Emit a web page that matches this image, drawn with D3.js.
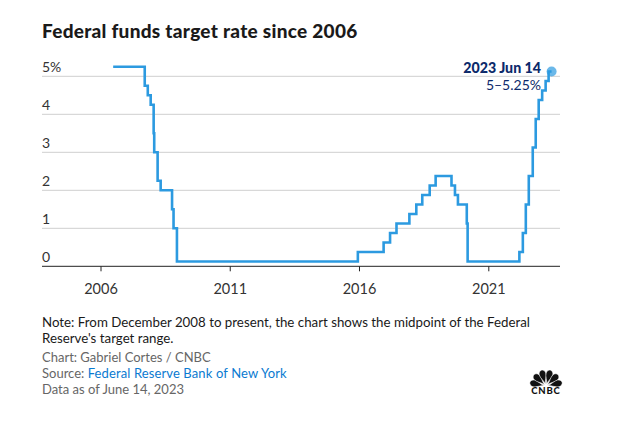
<!DOCTYPE html>
<html>
<head>
<meta charset="utf-8">
<script src="https://cdn.jsdelivr.net/npm/d3@7"></script>
<style>
  html, body { margin: 0; padding: 0; background: #fff; }
  text { font-family: Lato, "Open Sans", sans-serif; }
</style>
</head>
<body>
<svg id="chart" width="631" height="425"></svg>
<script>
const rateDates = ['2006-06-29', '2007-09-18', '2007-10-31', '2007-12-11', '2008-01-22', '2008-01-30',
  '2008-03-18', '2008-04-30', '2008-10-08', '2008-10-29', '2008-12-16', '2015-12-16', '2016-12-14',
  '2017-03-15', '2017-06-14', '2017-12-13', '2018-03-21', '2018-06-13', '2018-09-26', '2018-12-19',
  '2019-07-31', '2019-09-18', '2019-10-30', '2020-03-03', '2020-03-15', '2022-03-16', '2022-05-04',
  '2022-06-15', '2022-07-27', '2022-09-21', '2022-11-02', '2022-12-14', '2023-02-01', '2023-03-22',
  '2023-05-03', '2023-06-14']
const rateValues = [5.25, 4.75, 4.5, 4.25, 3.5, 3, 2.25, 2, 1.5, 1, 0.125, 0.375, 0.625, 0.875, 1.125,
  1.375, 1.625, 1.875, 2.125, 2.375, 2.125, 1.875, 1.625, 1.125, 0.125, 0.375, 0.875, 1.625, 2.375,
  3.125, 3.875, 4.375, 4.625, 4.875, 5.125, 5.125]
const yTicks = [0, 1, 2, 3, 4, 5]
const xTickYears = [2006, 2011, 2016, 2021]
const noteLines = [
  'Note: From December 2008 to present, the chart shows the midpoint of the Federal',
  "Reserve's target range."
]

const svg = d3.select('#chart')
const parse = d3.utcParse('%Y-%m-%d')
const points = rateDates.map((d, i) => ({ date: parse(d), value: rateValues[i] }))

const left = 42
const right = 560

// 2006 sits at x=100.5 and 2021 at x=488.3 in the reference
const x = d3.scaleUtc()
  .domain([Date.UTC(2006, 0, 1), Date.UTC(2021, 0, 1)])
  .range([100.5, 488.3])
const y = d3.scaleLinear().domain([0, 5]).range([266.3, 76.3])

svg.append('text')
  .attr('x', left)
  .attr('y', 38)
  .attr('font-size', 19)
  .attr('font-weight', 900)
  .attr('letter-spacing', 0.28)
  .attr('fill', '#1a1a1a')
  .text('Federal funds target rate since 2006')

// gridlines and y labels
const yGroup = svg.append('g')
yTicks.forEach(t => {
  if (t > 0) {
    yGroup.append('line')
      .attr('x1', left).attr('x2', right)
      .attr('y1', y(t)).attr('y2', y(t))
      .style('stroke', '#cfcfcf')
  }
  yGroup.append('text')
    .attr('x', left)
    .attr('y', y(t) - 4)
    .attr('font-size', 14)
    .attr('fill', '#333')
    .text(t === 5 ? t + '%' : t)
})

// x axis
const xAxis = svg.append('g')
  .attr('transform', `translate(0,${y(0)})`)
  .call(d3.axisBottom(x)
    .tickValues(xTickYears.map(yr => new Date(Date.UTC(yr, 0, 1))))
    .tickFormat(d3.utcFormat('%Y'))
    .tickSize(5)
    .tickPadding(12))
xAxis.select('.domain').remove()
xAxis.selectAll('line').style('stroke', '#222')
xAxis.selectAll('text')
  .attr('font-size', 14.5)
  .attr('fill', '#333')
  .style('font-family', 'Lato, "Open Sans", sans-serif')
svg.append('line')
  .attr('x1', left).attr('x2', right)
  .attr('y1', y(0)).attr('y2', y(0))
  .style('stroke', '#222')

const line = d3.line()
  .x(d => x(d.date))
  .y(d => y(d.value))
  .curve(d3.curveStepAfter)

svg.append('path')
  .datum(points)
  .attr('d', line)
  .style('fill', 'none')
  .style('stroke', '#2c9ae0')
  .style('stroke-width', 2.6)

const last = points[points.length - 1]
svg.append('circle')
  .attr('cx', x(last.date))
  .attr('cy', y(last.value))
  .attr('r', 5)
  .style('fill', '#2c9ae0')
  .style('fill-opacity', 0.7)

svg.append('text')
  .attr('x', 541).attr('y', 73)
  .attr('text-anchor', 'end')
  .attr('font-size', 14.2)
  .attr('font-weight', 900)
  .attr('fill', '#0c2a6b')
  .text('2023 Jun 14')
svg.append('text')
  .attr('x', 541).attr('y', 90)
  .attr('text-anchor', 'end')
  .attr('font-size', 14)
  .attr('fill', '#0c2a6b')
  .text('5–5.25%')

// footer
noteLines.forEach((t, i) => {
  svg.append('text')
    .attr('x', left)
    .attr('y', 327 + i * 16)
    .attr('font-size', 13.3)
    .attr('fill', '#1a1a1a')
    .text(t)
})
svg.append('text')
  .attr('x', left).attr('y', 362)
  .attr('font-size', 13)
  .attr('fill', '#666')
  .text('Chart: Gabriel Cortes / CNBC')
const source = svg.append('text')
  .attr('x', left).attr('y', 378)
  .attr('font-size', 13)
  .attr('fill', '#666')
source.append('tspan').text('Source: ')
source.append('tspan').attr('fill', '#0a7ad1').attr('letter-spacing', 0.12).text('Federal Reserve Bank of New York')
svg.append('text')
  .attr('x', left).attr('y', 394)
  .attr('font-size', 13)
  .attr('fill', '#666')
  .text('Data as of June 14, 2023')

// peacock logo
const logo = svg.append('g').attr('transform', 'translate(546,386)')
const featherAngles = [-78, -47, -16, 16, 47, 78]
featherAngles.forEach(a => {
  logo.append('path')
    .attr('d', 'M0,-2 C-0.6,-6 -3.4,-9 -3.4,-12.5 C-3.4,-14.8 -1.8,-16.5 0,-16.5 C1.8,-16.5 3.4,-14.8 3.4,-12.5 C3.4,-9 0.6,-6 0,-2 Z')
    .attr('transform', `rotate(${a})`)
    .style('fill', '#111')
    .style('stroke', '#fff')
    .style('stroke-width', 0.5)
})
logo.append('text')
  .attr('x', 0).attr('y', 7.5)
  .attr('text-anchor', 'middle')
  .attr('font-size', 9.5)
  .attr('font-weight', 900)
  .attr('letter-spacing', 0.8)
  .attr('fill', '#111')
  .text('CNBC')
</script>
</body>
</html>
